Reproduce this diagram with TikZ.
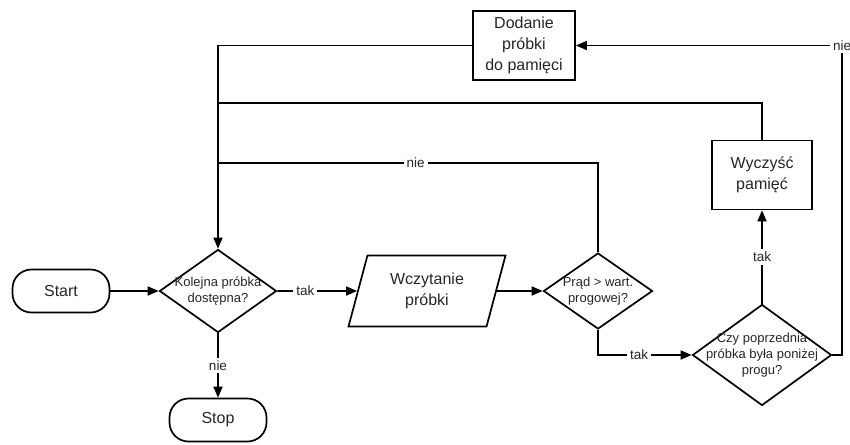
\documentclass[tikz,border=0pt]{standalone}
\usepackage{fontspec}
\setmainfont{Liberation Sans}
\usetikzlibrary{shapes.geometric,arrows.meta}

\begin{document}
\begin{tikzpicture}[
  x=1pt, y=-1pt,
  line width=1.7pt,
  every node/.style={font=\fontsize{16}{21}\selectfont, align=center, text=black!85},
  terminal/.style={draw, rectangle, rounded corners=19pt, minimum width=97pt, minimum height=43pt},
  process/.style={draw, rectangle, minimum width=100pt, minimum height=69pt},
  inout/.style={draw, trapezium, trapezium left angle=66, trapezium right angle=114,
    trapezium stretches body, minimum width=157pt, minimum height=71pt},
  decision/.style={draw, diamond, inner sep=0pt},
  dtext/.style={font=\fontsize{13}{16}\selectfont, align=center},
  lbl/.style={fill=white, font=\fontsize{13.5}{16}\selectfont, inner sep=3pt},
  flow/.style={-{Triangle[length=11pt,width=9pt]}}
]
  \useasboundingbox (0,0) rectangle (850,444);

  % nodes
  \node[terminal] (start) at (61,291) {Start};
  \node[decision, minimum width=117pt, minimum height=83pt,
    label={[dtext]center:{Kolejna próbka\\dostępna?}}] (next) at (218,291) {};
  \node[terminal] (stop) at (218,420) {Stop};
  \node[inout] (read) at (427,291) {Wczytanie\\próbki};
  \node[decision, minimum width=109pt, minimum height=76pt,
    label={[dtext]center:{Prąd > wart.\\progowej?}}] (above) at (598,291) {};
  \node[decision, minimum width=139pt, minimum height=101pt,
    label={[dtext]center:{Czy poprzednia\\próbka była poniżej\\progu?}}] (prev) at (762,355) {};
  \node[process] (clear) at (762,175) {Wyczyść\\pamięć};
  \node[process, minimum width=102pt] (add) at (524,45.5) {Dodanie\\próbki\\do pamięci};

  \coordinate (jclear) at (218,103);
  \coordinate (jnie) at (218,163);
  \coordinate (nieR) at (842,45.5);

  % connectors
  \draw[flow] (start) -- (next);
  \draw[flow] (next) -- node[lbl, pos=.35]{tak} (read);
  \draw[flow] (next) -- node[lbl]{nie} (stop);
  \draw[flow] (read) -- (above);
  \draw[flow] (above.south) |- node[lbl, pos=.72]{tak} (prev);
  \draw[flow] (prev) -- node[lbl]{tak} (clear);
  \draw[flow] (prev.east) -| (nieR) node[lbl]{nie} -- (add.east);
  \draw[flow] (add.west) -| (next.north);
  \draw (clear.north) |- (jclear);
  \draw (above.north) |- node[lbl, pos=.74]{nie} (jnie);
\end{tikzpicture}
\end{document}
